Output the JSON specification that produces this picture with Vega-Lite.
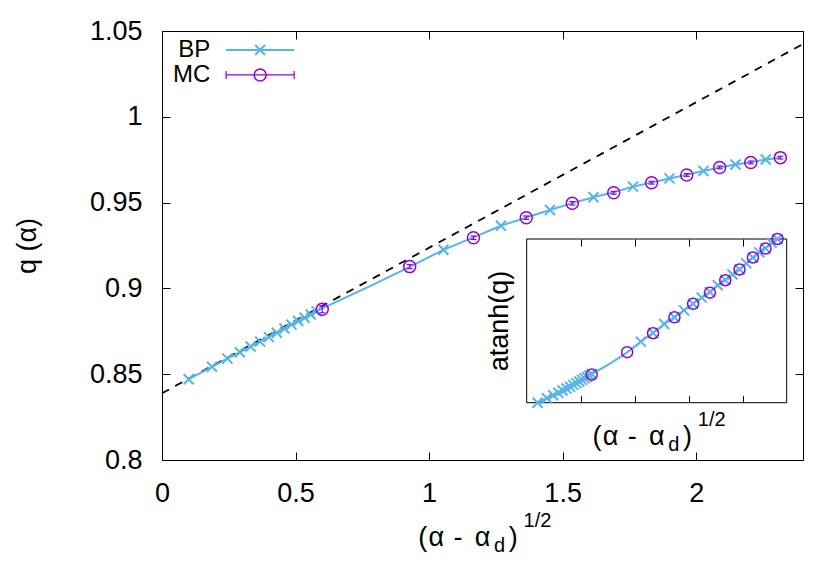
{
  "$schema": "https://vega.github.io/schema/vega-lite/v6.json",
  "width": 641,
  "height": 429,
  "autosize": {"type": "none"},
  "padding": {"left": 162, "top": 31, "right": 27, "bottom": 121},
  "background": "white",
  "config": {
    "view": {"stroke": "black", "strokeWidth": 1},
    "font": "Liberation Sans",
    "axis": {"grid": false, "domain": false, "tickColor": "black", "tickWidth": 1, "labelFont": "Liberation Sans", "labelFontSize": 27, "labelColor": "black", "labelFlush": false, "labelOverlap": false, "titleFont": "Liberation Sans", "titleFontSize": 27, "titleFontWeight": "normal", "titleColor": "black"},
    "text": {"font": "Liberation Sans", "color": "black"}
  },
  "datasets": {
    "fit": [{"x": 0, "q": 0.8389}, {"x": 2.4, "q": 1.0424}],
    "bp_curve": [
      {"x": 0.1000, "q": 0.8471, "atanh_q": 1.2458},
      {"x": 0.1871, "q": 0.8543, "atanh_q": 1.2719},
      {"x": 0.2449, "q": 0.8591, "atanh_q": 1.2899},
      {"x": 0.2915, "q": 0.8628, "atanh_q": 1.3043},
      {"x": 0.3317, "q": 0.8661, "atanh_q": 1.3173},
      {"x": 0.3674, "q": 0.8690, "atanh_q": 1.3290},
      {"x": 0.4000, "q": 0.8716, "atanh_q": 1.3397},
      {"x": 0.4301, "q": 0.8742, "atanh_q": 1.3506},
      {"x": 0.4583, "q": 0.8766, "atanh_q": 1.3609},
      {"x": 0.4848, "q": 0.8789, "atanh_q": 1.3709},
      {"x": 0.5099, "q": 0.8810, "atanh_q": 1.3802},
      {"x": 0.5339, "q": 0.8829, "atanh_q": 1.3888},
      {"x": 0.5568, "q": 0.8848, "atanh_q": 1.3975},
      {"x": 0.5788, "q": 0.8866, "atanh_q": 1.4058},
      {"x": 0.6000, "q": 0.8884, "atanh_q": 1.4143},
      {"x": 0.7810, "q": 0.9015, "atanh_q": 1.4801},
      {"x": 0.9274, "q": 0.9125, "atanh_q": 1.5422},
      {"x": 1.0536, "q": 0.9225, "atanh_q": 1.6055},
      {"x": 1.1662, "q": 0.9297, "atanh_q": 1.6562},
      {"x": 1.2689, "q": 0.9365, "atanh_q": 1.7088},
      {"x": 1.3638, "q": 0.9413, "atanh_q": 1.7493},
      {"x": 1.4526, "q": 0.9457, "atanh_q": 1.7894},
      {"x": 1.5362, "q": 0.9497, "atanh_q": 1.8287},
      {"x": 1.6155, "q": 0.9531, "atanh_q": 1.8646},
      {"x": 1.6912, "q": 0.9560, "atanh_q": 1.8972},
      {"x": 1.7635, "q": 0.9593, "atanh_q": 1.9370},
      {"x": 1.8330, "q": 0.9617, "atanh_q": 1.9680},
      {"x": 1.9000, "q": 0.9641, "atanh_q": 2.0010},
      {"x": 1.9647, "q": 0.9662, "atanh_q": 2.0317},
      {"x": 2.0273, "q": 0.9684, "atanh_q": 2.0659},
      {"x": 2.0881, "q": 0.9705, "atanh_q": 2.1008},
      {"x": 2.1471, "q": 0.9722, "atanh_q": 2.1309},
      {"x": 2.2045, "q": 0.9735, "atanh_q": 2.1552},
      {"x": 2.2605, "q": 0.9751, "atanh_q": 2.1867},
      {"x": 2.3152, "q": 0.9762, "atanh_q": 2.2096}
    ],
    "bp_main_marks": [
      {"x": 0.1000, "q": 0.8471},
      {"x": 0.1871, "q": 0.8543},
      {"x": 0.2449, "q": 0.8591},
      {"x": 0.2915, "q": 0.8628},
      {"x": 0.3317, "q": 0.8661},
      {"x": 0.3674, "q": 0.8690},
      {"x": 0.4000, "q": 0.8716},
      {"x": 0.4301, "q": 0.8742},
      {"x": 0.4583, "q": 0.8766},
      {"x": 0.4848, "q": 0.8789},
      {"x": 0.5099, "q": 0.8810},
      {"x": 0.5339, "q": 0.8829},
      {"x": 0.5568, "q": 0.8848},
      {"x": 0.5788, "q": 0.8866},
      {"x": 1.0536, "q": 0.9225},
      {"x": 1.2689, "q": 0.9365},
      {"x": 1.4526, "q": 0.9457},
      {"x": 1.6155, "q": 0.9531},
      {"x": 1.7635, "q": 0.9593},
      {"x": 1.9000, "q": 0.9641},
      {"x": 2.0273, "q": 0.9684},
      {"x": 2.1471, "q": 0.9722},
      {"x": 2.2605, "q": 0.9751}
    ],
    "bp_inset_marks": [
      {"x": 0.1000, "atanh_q": 1.2458},
      {"x": 0.1871, "atanh_q": 1.2719},
      {"x": 0.2449, "atanh_q": 1.2899},
      {"x": 0.2915, "atanh_q": 1.3043},
      {"x": 0.3317, "atanh_q": 1.3173},
      {"x": 0.3674, "atanh_q": 1.3290},
      {"x": 0.4000, "atanh_q": 1.3397},
      {"x": 0.4301, "atanh_q": 1.3506},
      {"x": 0.4583, "atanh_q": 1.3609},
      {"x": 0.4848, "atanh_q": 1.3709},
      {"x": 0.5099, "atanh_q": 1.3802},
      {"x": 0.5339, "atanh_q": 1.3888},
      {"x": 0.5568, "atanh_q": 1.3975},
      {"x": 0.5788, "atanh_q": 1.4058},
      {"x": 0.6000, "atanh_q": 1.4143},
      {"x": 1.0536, "atanh_q": 1.6055},
      {"x": 1.1662, "atanh_q": 1.6562},
      {"x": 1.2689, "atanh_q": 1.7088},
      {"x": 1.3638, "atanh_q": 1.7493},
      {"x": 1.4526, "atanh_q": 1.7894},
      {"x": 1.5362, "atanh_q": 1.8287},
      {"x": 1.6155, "atanh_q": 1.8646},
      {"x": 1.6912, "atanh_q": 1.8972},
      {"x": 1.7635, "atanh_q": 1.9370},
      {"x": 1.8330, "atanh_q": 1.9680},
      {"x": 1.9000, "atanh_q": 2.0010},
      {"x": 1.9647, "atanh_q": 2.0317},
      {"x": 2.0273, "atanh_q": 2.0659},
      {"x": 2.0881, "atanh_q": 2.1008},
      {"x": 2.1471, "atanh_q": 2.1309},
      {"x": 2.2045, "atanh_q": 2.1552},
      {"x": 2.2605, "atanh_q": 2.1867},
      {"x": 2.3152, "atanh_q": 2.2096}
    ],
    "mc": [
      {"x": 0.6000, "q": 0.8878, "q_lo": 0.8858, "q_hi": 0.8898, "atanh_q": 1.4114},
      {"x": 0.9274, "q": 0.9127, "q_lo": 0.9115, "q_hi": 0.9139, "atanh_q": 1.5435},
      {"x": 1.1662, "q": 0.9295, "q_lo": 0.9285, "q_hi": 0.9305, "atanh_q": 1.6547},
      {"x": 1.3638, "q": 0.9412, "q_lo": 0.9402, "q_hi": 0.9422, "atanh_q": 1.7485},
      {"x": 1.5362, "q": 0.9496, "q_lo": 0.9486, "q_hi": 0.9506, "atanh_q": 1.8277},
      {"x": 1.6912, "q": 0.9557, "q_lo": 0.9549, "q_hi": 0.9565, "atanh_q": 1.8937},
      {"x": 1.8330, "q": 0.9616, "q_lo": 0.9608, "q_hi": 0.9624, "atanh_q": 1.9667},
      {"x": 1.9647, "q": 0.9661, "q_lo": 0.9653, "q_hi": 0.9669, "atanh_q": 2.0302},
      {"x": 2.0881, "q": 0.9705, "q_lo": 0.9697, "q_hi": 0.9713, "atanh_q": 2.1008},
      {"x": 2.2045, "q": 0.9734, "q_lo": 0.9726, "q_hi": 0.9742, "atanh_q": 2.1533},
      {"x": 2.3152, "q": 0.9762, "q_lo": 0.9754, "q_hi": 0.9770, "atanh_q": 2.2096}
    ]
  },
  "layer": [
    {
      "layer": [
        {
          "data": {"name": "fit"},
          "mark": {"type": "line", "color": "black", "strokeWidth": 1.8, "strokeDash": [8, 7]},
          "encoding": {
            "x": {"field": "x", "type": "quantitative", "scale": {"domain": [0, 2.4], "nice": false, "zero": false},
                  "axis": {"orient": "bottom", "values": [0, 0.5, 1, 1.5, 2], "format": "~g", "tickSize": -8, "labelPadding": 28, "title": null}},
            "y": {"field": "q", "type": "quantitative", "scale": {"domain": [0.8, 1.05], "nice": false, "zero": false},
                  "axis": {"orient": "left", "values": [0.8, 0.85, 0.9, 0.95, 1, 1.05], "format": "~g", "tickSize": -8, "labelPadding": 28, "title": "q (α)", "titlePadding": 48}}
          }
        },
        {
          "data": {"name": "bp_curve"},
          "mark": {"type": "line", "color": "#56b4e9", "strokeWidth": 2},
          "encoding": {"x": {"field": "x", "type": "quantitative"}, "y": {"field": "q", "type": "quantitative"}}
        },
        {
          "data": {"name": "bp_main_marks"},
          "mark": {"type": "point", "shape": "M-1,-1L1,1M-1,1L1,-1", "size": 100, "filled": false, "stroke": "#56b4e9", "strokeWidth": 2, "opacity": 1},
          "encoding": {"x": {"field": "x", "type": "quantitative"}, "y": {"field": "q", "type": "quantitative"}}
        },
        {
          "data": {"name": "mc"},
          "mark": {"type": "rule", "color": "#9400d3", "strokeWidth": 1.2},
          "encoding": {"x": {"field": "x", "type": "quantitative"}, "y": {"field": "q_lo", "type": "quantitative"}, "y2": {"field": "q_hi"}}
        },
        {
          "data": {"name": "mc"},
          "mark": {"type": "rule", "color": "#9400d3", "strokeWidth": 1.2, "xOffset": -3, "x2Offset": 3},
          "encoding": {"x": {"field": "x", "type": "quantitative"}, "x2": {"field": "x"}, "y": {"field": "q_lo", "type": "quantitative"}}
        },
        {
          "data": {"name": "mc"},
          "mark": {"type": "rule", "color": "#9400d3", "strokeWidth": 1.2, "xOffset": -3, "x2Offset": 3},
          "encoding": {"x": {"field": "x", "type": "quantitative"}, "x2": {"field": "x"}, "y": {"field": "q_hi", "type": "quantitative"}}
        },
        {
          "data": {"name": "mc"},
          "mark": {"type": "point", "shape": "circle", "size": 144, "filled": false, "stroke": "#9400d3", "strokeWidth": 1.5, "opacity": 1},
          "encoding": {"x": {"field": "x", "type": "quantitative"}, "y": {"field": "q", "type": "quantitative"}}
        },
        {
          "data": {"values": [{}]},
          "mark": {"type": "text", "text": "BP", "align": "right", "baseline": "middle", "fontSize": 24},
          "encoding": {"x": {"datum": 0.181, "type": "quantitative"}, "y": {"datum": 1.0392, "type": "quantitative"}}
        },
        {
          "data": {"values": [{}]},
          "mark": {"type": "text", "text": "MC", "align": "right", "baseline": "middle", "fontSize": 24},
          "encoding": {"x": {"datum": 0.181, "type": "quantitative"}, "y": {"datum": 1.0241, "type": "quantitative"}}
        },
        {
          "data": {"values": [{}]},
          "mark": {"type": "rule", "color": "#56b4e9", "strokeWidth": 2},
          "encoding": {"x": {"datum": 0.240, "type": "quantitative"}, "x2": {"datum": 0.495}, "y": {"datum": 1.0389, "type": "quantitative"}}
        },
        {
          "data": {"values": [{}]},
          "mark": {"type": "point", "shape": "M-1,-1L1,1M-1,1L1,-1", "size": 100, "filled": false, "stroke": "#56b4e9", "strokeWidth": 2, "opacity": 1},
          "encoding": {"x": {"datum": 0.3675, "type": "quantitative"}, "y": {"datum": 1.0389, "type": "quantitative"}}
        },
        {
          "data": {"values": [{}]},
          "mark": {"type": "rule", "color": "#9400d3", "strokeWidth": 1.2},
          "encoding": {"x": {"datum": 0.240, "type": "quantitative"}, "x2": {"datum": 0.495}, "y": {"datum": 1.0244, "type": "quantitative"}}
        },
        {
          "data": {"values": [{}]},
          "mark": {"type": "rule", "color": "#9400d3", "strokeWidth": 1.2, "yOffset": -4, "y2Offset": 4},
          "encoding": {"x": {"datum": 0.240, "type": "quantitative"}, "y": {"datum": 1.0244, "type": "quantitative"}, "y2": {"datum": 1.0244}}
        },
        {
          "data": {"values": [{}]},
          "mark": {"type": "rule", "color": "#9400d3", "strokeWidth": 1.2, "yOffset": -4, "y2Offset": 4},
          "encoding": {"x": {"datum": 0.495, "type": "quantitative"}, "y": {"datum": 1.0244, "type": "quantitative"}, "y2": {"datum": 1.0244}}
        },
        {
          "data": {"values": [{}]},
          "mark": {"type": "point", "shape": "circle", "size": 144, "filled": false, "stroke": "#9400d3", "strokeWidth": 1.5, "opacity": 1},
          "encoding": {"x": {"datum": 0.3675, "type": "quantitative"}, "y": {"datum": 1.0244, "type": "quantitative"}}
        },
        {
          "data": {"values": [{}]},
          "mark": {"type": "text", "text": "(", "align": "left", "baseline": "alphabetic", "fontSize": 27, "dy": 86},
          "encoding": {"x": {"datum": 0.9599, "type": "quantitative"}, "y": {"datum": 0.8, "type": "quantitative"}}
        },
        {
          "data": {"values": [{}]},
          "mark": {"type": "text", "text": "α", "align": "center", "baseline": "alphabetic", "fontSize": 27, "dy": 86},
          "encoding": {"x": {"datum": 1.0274, "type": "quantitative"}, "y": {"datum": 0.8, "type": "quantitative"}}
        },
        {
          "data": {"values": [{}]},
          "mark": {"type": "text", "text": "-", "align": "center", "baseline": "alphabetic", "fontSize": 27, "dy": 86},
          "encoding": {"x": {"datum": 1.1080, "type": "quantitative"}, "y": {"datum": 0.8, "type": "quantitative"}}
        },
        {
          "data": {"values": [{}]},
          "mark": {"type": "text", "text": "α", "align": "center", "baseline": "alphabetic", "fontSize": 27, "dy": 86},
          "encoding": {"x": {"datum": 1.1998, "type": "quantitative"}, "y": {"datum": 0.8, "type": "quantitative"}}
        },
        {
          "data": {"values": [{}]},
          "mark": {"type": "text", "text": "d", "align": "left", "baseline": "alphabetic", "fontSize": 20, "dy": 92},
          "encoding": {"x": {"datum": 1.2430, "type": "quantitative"}, "y": {"datum": 0.8, "type": "quantitative"}}
        },
        {
          "data": {"values": [{}]},
          "mark": {"type": "text", "text": ")", "align": "left", "baseline": "alphabetic", "fontSize": 27, "dy": 86},
          "encoding": {"x": {"datum": 1.2980, "type": "quantitative"}, "y": {"datum": 0.8, "type": "quantitative"}}
        },
        {
          "data": {"values": [{}]},
          "mark": {"type": "text", "text": "1/2", "align": "left", "baseline": "alphabetic", "fontSize": 20, "dy": 67},
          "encoding": {"x": {"datum": 1.3536, "type": "quantitative"}, "y": {"datum": 0.8, "type": "quantitative"}}
        },
        {
          "data": {"values": [{}]},
          "mark": {"type": "text", "text": "(", "align": "left", "baseline": "alphabetic", "fontSize": 27, "dy": -15},
          "encoding": {"x": {"datum": 1.6123, "type": "quantitative"}, "y": {"datum": 0.8, "type": "quantitative"}}
        },
        {
          "data": {"values": [{}]},
          "mark": {"type": "text", "text": "α", "align": "center", "baseline": "alphabetic", "fontSize": 27, "dy": -15},
          "encoding": {"x": {"datum": 1.6798, "type": "quantitative"}, "y": {"datum": 0.8, "type": "quantitative"}}
        },
        {
          "data": {"values": [{}]},
          "mark": {"type": "text", "text": "-", "align": "center", "baseline": "alphabetic", "fontSize": 27, "dy": -15},
          "encoding": {"x": {"datum": 1.7604, "type": "quantitative"}, "y": {"datum": 0.8, "type": "quantitative"}}
        },
        {
          "data": {"values": [{}]},
          "mark": {"type": "text", "text": "α", "align": "center", "baseline": "alphabetic", "fontSize": 27, "dy": -15},
          "encoding": {"x": {"datum": 1.8522, "type": "quantitative"}, "y": {"datum": 0.8, "type": "quantitative"}}
        },
        {
          "data": {"values": [{}]},
          "mark": {"type": "text", "text": "d", "align": "left", "baseline": "alphabetic", "fontSize": 20, "dy": -9},
          "encoding": {"x": {"datum": 1.8954, "type": "quantitative"}, "y": {"datum": 0.8, "type": "quantitative"}}
        },
        {
          "data": {"values": [{}]},
          "mark": {"type": "text", "text": ")", "align": "left", "baseline": "alphabetic", "fontSize": 27, "dy": -15},
          "encoding": {"x": {"datum": 1.9504, "type": "quantitative"}, "y": {"datum": 0.8, "type": "quantitative"}}
        },
        {
          "data": {"values": [{}]},
          "mark": {"type": "text", "text": "1/2", "align": "left", "baseline": "alphabetic", "fontSize": 20, "dy": -34},
          "encoding": {"x": {"datum": 2.0060, "type": "quantitative"}, "y": {"datum": 0.8, "type": "quantitative"}}
        },
        {
          "data": {"values": [{}]},
          "mark": {"type": "text", "text": "atanh(q)", "align": "center", "baseline": "middle", "angle": 270, "fontSize": 27},
          "encoding": {"x": {"datum": 1.267, "type": "quantitative"}, "y": {"datum": 0.881, "type": "quantitative"}}
        }
      ]
    },
    {
      "data": {"values": [{}]},
      "mark": {"type": "point", "opacity": 0},
      "encoding": {
        "x": {"datum": 1, "type": "quantitative", "scale": {"domain": [0, 2.4], "nice": false, "zero": false},
              "axis": {"orient": "top", "values": [0, 0.5, 1, 1.5, 2], "tickSize": -8, "labels": false, "title": null}},
        "y": {"datum": 0.9, "type": "quantitative", "scale": {"domain": [0.8, 1.05], "nice": false, "zero": false},
              "axis": {"orient": "right", "values": [0.8, 0.85, 0.9, 0.95, 1, 1.05], "tickSize": -8, "labels": false, "title": null}}
      }
    },
    {
      "layer": [
        {
          "data": {"values": [{}]},
          "mark": {"type": "rect", "fill": "white", "stroke": "black", "strokeWidth": 1},
          "encoding": {
            "x": {"datum": 0, "type": "quantitative", "scale": {"domain": [0, 2.4], "range": [364.7, 624.7], "nice": false, "zero": false},
                  "axis": {"orient": "bottom", "offset": -57.3, "values": [0.5, 1, 1.5, 2], "tickSize": -7, "labels": false, "title": null, "zindex": 1}},
            "x2": {"datum": 2.4},
            "y": {"datum": 1.2458, "type": "quantitative", "scale": {"domain": [1.2458, 2.2096], "range": [371.7, 208], "nice": false, "zero": false}, "axis": null},
            "y2": {"datum": 2.2096}
          }
        },
        {
          "data": {"name": "bp_curve"},
          "mark": {"type": "line", "color": "#56b4e9", "strokeWidth": 2},
          "encoding": {"x": {"field": "x", "type": "quantitative"}, "y": {"field": "atanh_q", "type": "quantitative"}}
        },
        {
          "data": {"name": "bp_inset_marks"},
          "mark": {"type": "point", "shape": "M-1,-1L1,1M-1,1L1,-1", "size": 100, "filled": false, "stroke": "#56b4e9", "strokeWidth": 2, "opacity": 1},
          "encoding": {"x": {"field": "x", "type": "quantitative"}, "y": {"field": "atanh_q", "type": "quantitative"}}
        },
        {
          "data": {"name": "mc"},
          "mark": {"type": "point", "shape": "circle", "size": 121, "filled": false, "stroke": "#9400d3", "strokeWidth": 1.5, "opacity": 1},
          "encoding": {"x": {"field": "x", "type": "quantitative"}, "y": {"field": "atanh_q", "type": "quantitative"}}
        }
      ]
    },
    {
      "data": {"values": [{}]},
      "mark": {"type": "point", "opacity": 0},
      "encoding": {
        "x": {"datum": 1, "type": "quantitative", "scale": {"domain": [0, 2.4], "range": [364.7, 624.7], "nice": false, "zero": false},
              "axis": {"orient": "top", "offset": -208, "values": [0.5, 1, 1.5, 2], "tickSize": -7, "labels": false, "title": null, "zindex": 1}}
      }
    }
  ],
  "resolve": {"scale": {"x": "independent", "y": "independent"}}
}
